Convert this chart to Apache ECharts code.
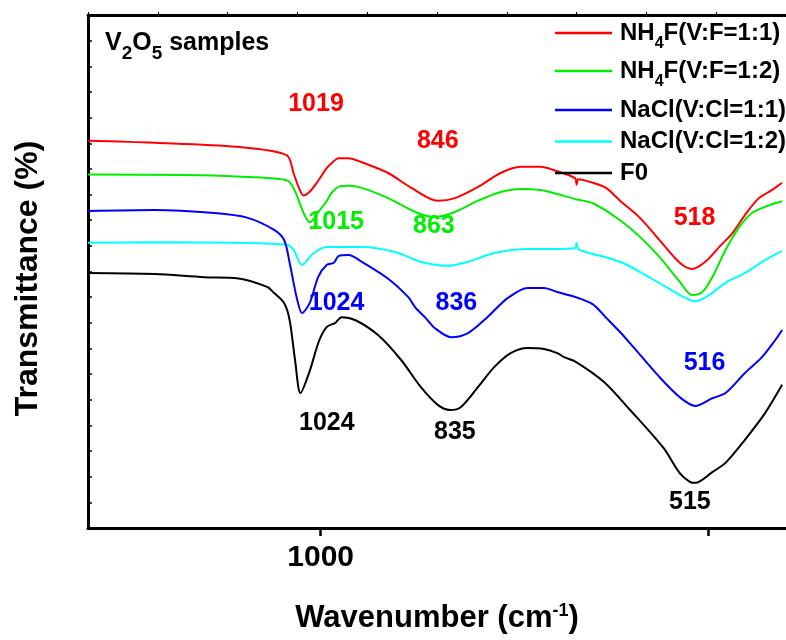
<!DOCTYPE html>
<html><head><meta charset="utf-8">
<script src="https://cdn.jsdelivr.net/npm/echarts@6/dist/echarts.min.js"></script>
<style>html,body{margin:0;padding:0;background:#fff}#c{width:786px;height:640px}</style>
</head><body><div id="c"></div>
<script>
// ---- data (wavenumber cm-1, transmittance a.u.) ----
const seriesNames = ['NH4F(V:F=1:1)', 'NH4F(V:F=1:2)', 'NaCl(V:Cl=1:1)', 'NaCl(V:Cl=1:2)', 'F0'];

const redX = [1300,1214,1108,1044,1035,1028,1022,1014,1005,992,986,977,964,947,913,883,849,827,797,768,742,717,700,672,670,668,649,632,614,588,563,537,521,504,486,469,453,435,418,405];
const redY = [75.5,75.1,74.3,72.7,69.2,66.3,64.8,65.6,67.3,70.2,71.1,72.1,72.1,71.3,69.2,66.3,63.8,64.3,66.5,69.2,70.4,70.4,69.8,68.2,66.9,68.0,67.3,66.3,63.8,60.4,56.1,51.7,50.5,51.9,54.8,57.5,61.0,64.3,65.9,67.3];

const greenX = [1300,1172,1108,1044,1035,1022,1014,1001,992,986,977,964,947,913,878,853,827,797,768,742,717,700,671,649,614,588,563,537,521,508,495,478,460,444,422,405];
const greenY = [68.9,68.8,68.5,67.8,66.3,61.4,59.6,62.0,63.8,65.3,66.5,66.7,66.3,64.3,61.6,60.6,61.6,63.8,65.5,66.1,65.9,65.3,64.1,63.3,60.0,56.7,52.8,48.0,45.4,46.0,48.9,54.2,58.7,61.4,62.9,63.7];

const blueX = [1300,1214,1137,1095,1060,1047,1040,1031,1024,1014,1003,992,983,977,964,947,913,887,878,865,853,832,810,785,759,733,712,695,671,649,632,614,597,563,537,517,495,478,453,431,414,405];
const blueY = [61.8,62.0,61.4,60.5,58.1,56.1,51.7,45.0,41.9,43.9,49.0,51.3,51.7,53.0,53.2,51.9,48.6,45.0,43.0,41.0,39.0,37.2,38.0,41.1,44.8,46.8,46.8,46.0,45.0,43.6,41.0,38.2,35.3,29.4,25.5,23.8,25.3,26.3,30.2,33.3,36.6,38.6];

const cyanX = [1300,1214,1108,1044,1035,1024,1009,992,973,947,904,871,836,810,776,733,700,672,670,668,658,614,581,555,529,517,499,478,453,427,405];
const cyanY = [55.6,55.7,55.6,55.2,54.2,51.3,53.6,54.8,54.8,54.8,53.8,51.9,51.1,51.9,53.6,54.4,54.4,54.6,55.6,54.4,53.8,51.9,49.3,47.0,44.8,44.2,45.4,47.8,49.7,52.2,54.0];

const blackX = [1300,1214,1150,1108,1069,1060,1047,1040,1033,1026,1015,1002,992,981,973,955,926,896,871,849,833,819,797,776,755,733,712,695,686,671,635,601,558,537,524,517,495,478,453,427,405];
const blackY = [49.7,49.5,48.9,48.7,47.0,45.8,43.8,40.5,32.7,26.3,30.2,36.5,39.2,40.0,41.1,40.5,37.6,32.7,27.5,24.0,23.0,23.6,27.5,31.4,34.1,35.1,34.9,34.1,33.3,32.4,28.5,23.0,15.6,10.7,9.0,8.8,10.9,12.7,17.2,22.4,27.9];

// peak annotations: [wavenumber, transmittance, text]
const redPeaks = [[1006, 82.7, '1019'], [849, 75.4, '846'], [518, 60.4, '518']];
const greenPeaks = [[980, 59.6, '1015'], [854, 58.8, '863']];
const bluePeaks = [[979.5, 43.9, '1024'], [825, 43.9, '836'], [505, 32.2, '516']];
const blackPeaks = [[992, 20.4, '1024'], [827, 18.7, '835'], [524, 5.1, '515']];

const xTickValues = [500, 1000];
const xLabelValues = [1000];

// ---- chart ----
const FONT = "'Liberation Sans', Arial, sans-serif";
const zip = (xs, ys) => xs.map((x, i) => [x, ys[i]]);

function mkSeries(name, xs, ys, color, peaks) {
  return {
    name, type: 'line', data: zip(xs, ys), xAxisIndex: 0, yAxisIndex: 0,
    symbol: 'none', smooth: 0.3, color,
    lineStyle: { color, width: 2 },
    markPoint: peaks ? {
      silent: true, symbol: 'rect', symbolSize: 1,
      itemStyle: { color: 'rgba(0,0,0,0)' },
      label: { show: true, position: 'inside', formatter: p => p.name, color,
               fontSize: 25, fontWeight: 'bold', fontFamily: FONT },
      data: peaks.map(p => ({ coord: [p[0], p[1]], name: p[2] }))
    } : undefined
  };
}

const legendText = {
  fontSize: 24, fontWeight: 'bold', fontFamily: FONT, color: '#000', padding: [0, 0, 0, 3],
  rich: { sub: { fontSize: 16, fontWeight: 'bold', fontFamily: FONT, color: '#000', padding: [22, 0, 0, 0] } }
};

const option = {
  animation: false,
  backgroundColor: '#fff',
  title: {
    text: 'V{sub|2}O{sub|5} samples', left: 105, top: 24, padding: 0,
    textStyle: { fontSize: 25, fontWeight: 'bold', fontFamily: FONT, color: '#000',
      rich: { sub: { fontSize: 19, fontWeight: 'bold', fontFamily: FONT, color: '#000', padding: [20, 0, 0, 0] } } }
  },
  legend: [
    { data: seriesNames.slice(0, 2), orient: 'vertical', left: 555, top: 21, padding: 0,
      itemWidth: 57, itemHeight: 2.5, icon: 'rect', itemGap: 7,
      formatter: n => n.replace('NH4F', 'NH{sub|4}F'), textStyle: legendText },
    { data: seriesNames.slice(2), orient: 'vertical', left: 555, top: 98, padding: 0,
      itemWidth: 57, itemHeight: 2.5, icon: 'rect', itemGap: 7.5,
      textStyle: { fontSize: 24, lineHeight: 24, fontWeight: 'bold', fontFamily: FONT, color: '#000', padding: [0, 0, 0, 3] } }
  ],
  grid: { left: 88, top: 15, width: 702, height: 513 },
  xAxis: [
    { type: 'value', position: 'bottom', inverse: true, min: 400, max: 1300,
      name: 'Wavenumber (cm{sup|-1})', nameLocation: 'middle', nameGap: 74,
      nameTextStyle: { fontSize: 31, fontWeight: 'bold', fontFamily: FONT, color: '#000',
        rich: { sup: { fontSize: 18, fontWeight: 'bold', fontFamily: FONT, color: '#000', padding: [0, 0, 14, 0] } } },
      axisLine: { show: true, lineStyle: { color: '#000', width: 3 } },
      axisTick: { show: true, inside: false, length: 8, customValues: xTickValues, lineStyle: { color: '#000', width: 2.5 } },
      axisLabel: { show: true, customValues: xLabelValues, formatter: v => String(v), margin: 15,
        fontSize: 30, fontWeight: 'bold', fontFamily: FONT, color: '#000' },
      splitLine: { show: false } },
    { type: 'value', position: 'top', min: 0, max: 10, interval: 1,
      axisLine: { show: true, lineStyle: { color: '#000', width: 3 } },
      axisTick: { show: true, inside: false, length: 3, lineStyle: { color: '#000', width: 1 } },
      axisLabel: { show: false }, splitLine: { show: false } }
  ],
  yAxis: [
    { type: 'value', min: 0, max: 100, interval: 5,
      name: 'Transmittance (%)', nameLocation: 'middle', nameGap: 44, nameRotate: 90,
      nameTextStyle: { fontSize: 32, fontWeight: 'bold', fontFamily: FONT, color: '#000', padding: [0, 14, 0, 0] },
      axisLine: { show: true, lineStyle: { color: '#000', width: 3 } },
      axisTick: { show: true, inside: true, length: 4, lineStyle: { color: '#000', width: 1.5 } },
      axisLabel: { show: false }, splitLine: { show: false } }
  ],
  series: [
    mkSeries(seriesNames[0], redX, redY, '#ff0000', redPeaks),
    mkSeries(seriesNames[1], greenX, greenY, '#00ee00', greenPeaks),
    mkSeries(seriesNames[3], cyanX, cyanY, '#00ffff', null),
    mkSeries(seriesNames[2], blueX, blueY, '#0000ff', bluePeaks),
    mkSeries(seriesNames[4], blackX, blackY, '#000000', blackPeaks)
  ]
};
const chart = echarts.init(document.getElementById('c'), null, { renderer: 'canvas' });
chart.setOption(option);
</script>
</body></html>
